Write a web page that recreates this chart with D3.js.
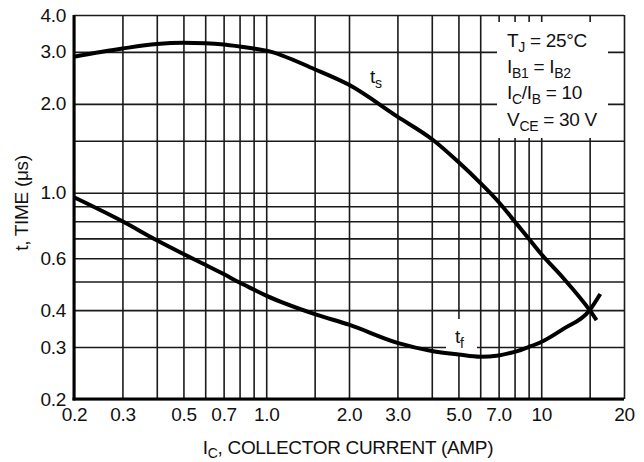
<!DOCTYPE html>
<html>
<head>
<meta charset="utf-8">
<script src="https://cdn.jsdelivr.net/npm/d3@7"></script>
<style>
  body { margin: 0; background: #fff; }
  svg text { font-family: "Liberation Sans", Arial, Helvetica, sans-serif; fill: #111; letter-spacing: -0.3px; }
</style>
</head>
<body>
<div id="chart"></div>
<script>
// storage time t_s vs collector current
var tsCurrent = [0.2, 0.3, 0.4, 0.5, 0.6, 0.7, 0.8, 0.9, 1.0, 1.5, 2.0, 3.0, 4.0, 5.0, 6.0, 7.0, 8.0, 9.0, 10, 12, 15, 15.9];
var tsTime = [2.89, 3.08, 3.19, 3.22, 3.21, 3.18, 3.13, 3.08, 3.03, 2.62, 2.32, 1.81, 1.52, 1.27, 1.08, 0.93, 0.80, 0.70, 0.62, 0.515, 0.40, 0.37];

// fall time t_f vs collector current
var tfCurrent = [0.2, 0.3, 0.4, 0.5, 0.6, 0.7, 0.8, 0.9, 1.0, 1.5, 2.0, 3.0, 4.0, 5.0, 6.0, 7.0, 8.0, 9.0, 10, 12, 15, 16.4];
var tfTime = [0.965, 0.80, 0.69, 0.62, 0.57, 0.53, 0.496, 0.47, 0.448, 0.388, 0.357, 0.31, 0.291, 0.283, 0.278, 0.281, 0.289, 0.30, 0.312, 0.345, 0.40, 0.454];

var xGrid = [0.2, 0.3, 0.4, 0.5, 0.6, 0.7, 0.8, 0.9, 1, 1.5, 2, 3, 4, 5, 6, 7, 8, 9, 10, 15, 20];
var yGrid = [0.2, 0.3, 0.4, 0.5, 0.6, 0.7, 0.8, 0.9, 1, 1.5, 2, 3, 4];

var xTicks = [0.2, 0.3, 0.5, 0.7, 1, 2, 3, 5, 7, 10, 20];
var xTickLabels = ["0.2", "0.3", "0.5", "0.7", "1.0", "2.0", "3.0", "5.0", "7.0", "10", "20"];
var yTicks = [0.2, 0.3, 0.4, 0.6, 1, 2, 3, 4];
var yTickLabels = ["0.2", "0.3", "0.4", "0.6", "1.0", "2.0", "3.0", "4.0"];

var legendLines = [
  [["T", 0], ["J", 1], [" = 25°C", 0]],
  [["I", 0], ["B1", 1], [" = I", 0], ["B2", 1]],
  [["I", 0], ["C", 1], ["/I", 0], ["B", 1], [" = 10", 0]],
  [["V", 0], ["CE", 1], [" = 30 V", 0]]
];

var margin = { top: 15, right: 20, bottom: 63, left: 74 },
  width = 644 - margin.left - margin.right,
  height = 462 - margin.top - margin.bottom;

var svg = d3
  .select("#chart")
  .append("svg")
  .attr("width", width + margin.left + margin.right)
  .attr("height", height + margin.top + margin.bottom)
  .append("g")
  .attr("transform", "translate(" + margin.left + "," + margin.top + ")");

var x = d3.scaleLog().domain([0.2, 20]).range([0, width]);
var y = d3.scaleLog().domain([0.2, 4]).range([height, 0]);

// grid
svg.append("g")
  .attr("class", "xgrid")
  .attr("transform", "translate(0," + height + ")")
  .call(d3.axisBottom(x).tickValues(xGrid).tickSize(-height).tickFormat(""))
  .call(function (g) { g.select(".domain").remove(); });

svg.append("g")
  .attr("class", "ygrid")
  .call(d3.axisLeft(y).tickValues(yGrid).tickSize(-width).tickFormat(""))
  .call(function (g) { g.select(".domain").remove(); });

svg.selectAll(".xgrid line, .ygrid line")
  .attr("stroke", "#1a1a1a")
  .attr("stroke-width", 1.6);

// heavy left and bottom edges
svg.append("line")
  .attr("x1", x(0.2)).attr("x2", x(0.2))
  .attr("y1", y(4)).attr("y2", y(0.2) + 1.5)
  .attr("stroke", "#000").attr("stroke-width", 3);
svg.append("line")
  .attr("x1", x(0.2) - 1.5).attr("x2", x(20))
  .attr("y1", y(0.2)).attr("y2", y(0.2))
  .attr("stroke", "#000").attr("stroke-width", 3);

// tick labels
var xAxis = svg.append("g")
  .attr("transform", "translate(0," + height + ")")
  .call(d3.axisBottom(x).tickValues(xTicks).tickSize(0).tickPadding(9)
    .tickFormat(function (d, i) { return xTickLabels[i]; }));
xAxis.select(".domain").remove();

var yAxis = svg.append("g")
  .call(d3.axisLeft(y).tickValues(yTicks).tickSize(0).tickPadding(8)
    .tickFormat(function (d, i) { return yTickLabels[i]; }));
yAxis.select(".domain").remove();

svg.selectAll(".tick text")
  .style("font-size", "19px")
  .attr("fill", "#111");

// white box behind the legend
svg.append("rect")
  .attr("x", 423).attr("y", 7)
  .attr("width", 111).attr("height", 116)
  .attr("fill", "#fff");

// white box behind t_f label
svg.append("rect")
  .attr("x", 372).attr("y", 304)
  .attr("width", 31).attr("height", 37)
  .attr("fill", "#fff");

// curves
var line = d3.line()
  .x(function (d) { return x(d[0]); })
  .y(function (d) { return y(d[1]); })
  .curve(d3.curveMonotoneX);

svg.append("path")
  .datum(d3.zip(tsCurrent, tsTime))
  .attr("d", line)
  .attr("fill", "none")
  .attr("stroke", "#000")
  .attr("stroke-width", 4);

svg.append("path")
  .datum(d3.zip(tfCurrent, tfTime))
  .attr("d", line)
  .attr("fill", "none")
  .attr("stroke", "#000")
  .attr("stroke-width", 4);

// text with subscripts
function subText(sel, parts, size, shift) {
  shift = shift || 5;
  parts.forEach(function (p, i) {
    var prev = i > 0 ? parts[i - 1][1] : 0;
    var dy = 0;
    if (p[1] && !prev) dy = shift;
    if (!p[1] && prev) dy = -shift;
    sel.append("tspan")
      .attr("dy", dy)
      .style("font-size", p[1] ? Math.round(size * 0.72) + "px" : size + "px")
      .text(p[0]);
  });
}

legendLines.forEach(function (parts, i) {
  var t = svg.append("text")
    .attr("x", 433)
    .attr("y", 31.5 + i * 26.4);
  subText(t, parts, 19);
});

subText(svg.append("text").attr("x", 296).attr("y", 68), [["t", 0], ["s", 1]], 19);
subText(svg.append("text").attr("x", 381).attr("y", 328), [["t", 0], ["f", 1]], 19);

// axis titles
var xTitle = svg.append("text")
  .attr("x", 274)
  .attr("y", height + 55)
  .attr("text-anchor", "middle");
subText(xTitle, [["I", 0], ["C", 1], [", COLLECTOR CURRENT (AMP)", 0]], 19, 4);

svg.append("text")
  .attr("transform", "translate(" + (-46) + "," + 188 + ") rotate(-90)")
  .attr("text-anchor", "middle")
  .style("font-size", "19px")
  .text("t, TIME (\u03bcs)");
</script>
</body>
</html>
